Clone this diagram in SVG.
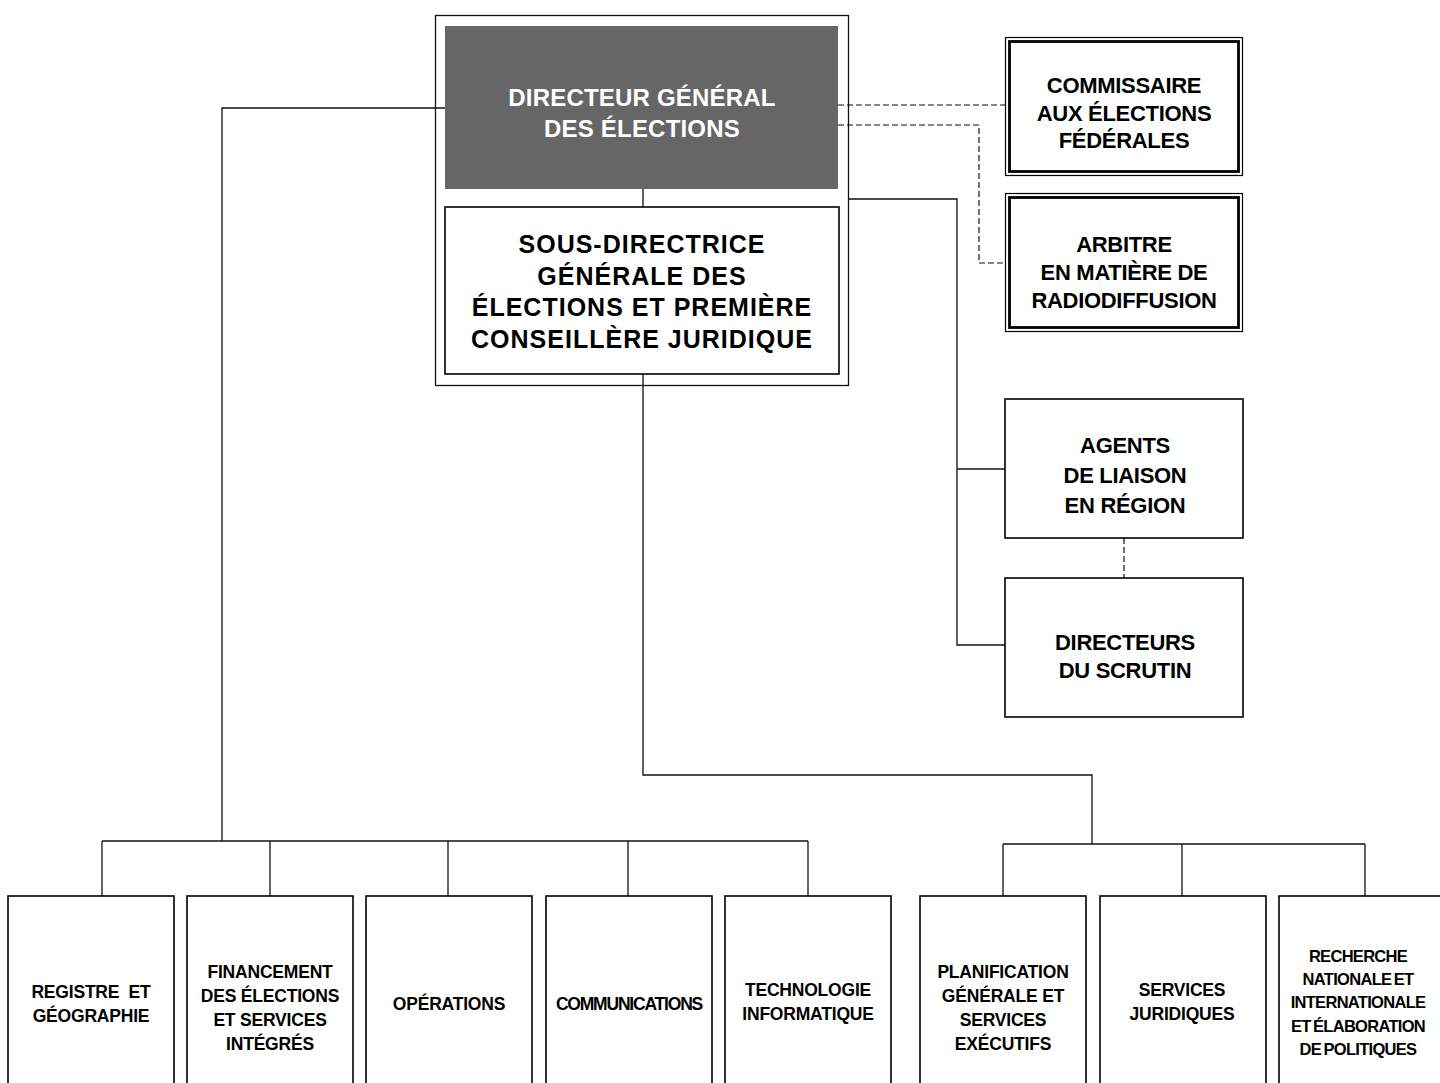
<svg xmlns="http://www.w3.org/2000/svg" width="1440" height="1083" viewBox="0 0 1440 1083">
<style>
.bg{fill:#ffffff}
.box{fill:#ffffff;stroke:#000;stroke-width:1.6}
.frame{fill:none;stroke:#111;stroke-width:1.3}
.dbl-o{fill:#ffffff;stroke:#000;stroke-width:1.2}
.dbl-i{fill:none;stroke:#000;stroke-width:2.8}
.ln{fill:none;stroke:#111;stroke-width:1.3}
.dash{fill:none;stroke:#111;stroke-width:1.2;stroke-dasharray:6,3}
text{font-family:"Liberation Sans",Arial,sans-serif;font-weight:bold;text-anchor:middle;fill:#000}
.dg{font-size:24px;fill:#fff;letter-spacing:0.2px}
.sd{font-size:25px;letter-spacing:1px}
.rt{font-size:22px;letter-spacing:-0.3px}
.bt{font-size:17.5px;letter-spacing:-0.2px}
</style>
<rect class="bg" x="0" y="0" width="1440" height="1083"/>
<g id="connectors">
  <polyline class="ln" points="445,108 222,108 222,841"/>
  <line class="ln" x1="102" y1="841" x2="808" y2="841"/>
  <line class="ln" x1="102" y1="841" x2="102" y2="896"/>
  <line class="ln" x1="270" y1="841" x2="270" y2="896"/>
  <line class="ln" x1="448" y1="841" x2="448" y2="896"/>
  <line class="ln" x1="628" y1="841" x2="628" y2="896"/>
  <line class="ln" x1="808" y1="841" x2="808" y2="896"/>
  <line class="ln" x1="643" y1="189" x2="643" y2="207"/>
  <polyline class="ln" points="643,374 643,775 1092,775 1092,844"/>
  <line class="ln" x1="1003" y1="844" x2="1365" y2="844"/>
  <line class="ln" x1="1003" y1="844" x2="1003" y2="896"/>
  <line class="ln" x1="1182" y1="844" x2="1182" y2="896"/>
  <line class="ln" x1="1365" y1="844" x2="1365" y2="896"/>
  <polyline class="ln" points="849,199 957,199 957,645 1005,645"/>
  <line class="ln" x1="957" y1="469" x2="1005" y2="469"/>
  <line class="dash" x1="838" y1="105" x2="1005" y2="105"/>
  <polyline class="dash" points="838,125 979,125 979,263 1005,263"/>
  <line class="dash" x1="1124" y1="538" x2="1124" y2="578"/>
</g>
<g id="frame-top">
  <rect class="frame" x="435.5" y="15.5" width="413" height="370"/>
</g>
<g id="node-dg">
  <rect x="445" y="26" width="393" height="163" fill="#666666"/>
  <text class="dg" x="642" y="106">DIRECTEUR GÉNÉRAL</text>
  <text class="dg" x="642" y="137">DES ÉLECTIONS</text>
</g>
<g id="node-sous-directrice">
  <rect class="box" x="445" y="207" width="394" height="167"/>
  <text class="sd" x="642" y="253">SOUS-DIRECTRICE</text>
  <text class="sd" x="642" y="284.5">GÉNÉRALE DES</text>
  <text class="sd" x="642" y="316">ÉLECTIONS ET PREMIÈRE</text>
  <text class="sd" x="642" y="347.5">CONSEILLÈRE JURIDIQUE</text>
</g>
<g id="node-commissaire">
  <rect class="dbl-o" x="1005.5" y="37.5" width="237" height="138"/>
  <rect class="dbl-i" x="1009.5" y="41.5" width="229" height="130"/>
  <text class="rt" x="1124" y="93">COMMISSAIRE</text>
  <text class="rt" x="1124" y="120.5">AUX ÉLECTIONS</text>
  <text class="rt" x="1124" y="148">FÉDÉRALES</text>
</g>
<g id="node-arbitre">
  <rect class="dbl-o" x="1005.5" y="193.5" width="237" height="138"/>
  <rect class="dbl-i" x="1009.5" y="197.5" width="229" height="130"/>
  <text class="rt" x="1124" y="252">ARBITRE</text>
  <text class="rt" x="1124" y="280">EN MATIÈRE DE</text>
  <text class="rt" x="1124" y="308">RADIODIFFUSION</text>
</g>
<g id="node-agents">
  <rect class="box" x="1005" y="399" width="238" height="139"/>
  <text class="rt" x="1125" y="453">AGENTS</text>
  <text class="rt" x="1125" y="483">DE LIAISON</text>
  <text class="rt" x="1125" y="513">EN RÉGION</text>
</g>
<g id="node-directeurs">
  <rect class="box" x="1005" y="578" width="238" height="139"/>
  <text class="rt" x="1125" y="650">DIRECTEURS</text>
  <text class="rt" x="1125" y="678">DU SCRUTIN</text>
</g>
<g id="node-registre">
  <rect class="box" x="8" y="896" width="166" height="196"/>
  <text class="bt" x="91" y="998" xml:space="preserve">REGISTRE  ET</text>
  <text class="bt" x="91" y="1022">GÉOGRAPHIE</text>
</g>
<g id="node-financement">
  <rect class="box" x="187" y="896" width="166" height="196"/>
  <text class="bt" x="270" y="978">FINANCEMENT</text>
  <text class="bt" x="270" y="1002">DES ÉLECTIONS</text>
  <text class="bt" x="270" y="1026">ET SERVICES</text>
  <text class="bt" x="270" y="1050">INTÉGRÉS</text>
</g>
<g id="node-operations">
  <rect class="box" x="366" y="896" width="166" height="196"/>
  <text class="bt" x="449" y="1010">OPÉRATIONS</text>
</g>
<g id="node-communications">
  <rect class="box" x="546" y="896" width="166" height="196"/>
  <text class="bt" x="629" y="1010" style="letter-spacing:-1.2px">COMMUNICATIONS</text>
</g>
<g id="node-technologie">
  <rect class="box" x="725" y="896" width="166" height="196"/>
  <text class="bt" x="808" y="996">TECHNOLOGIE</text>
  <text class="bt" x="808" y="1020">INFORMATIQUE</text>
</g>
<g id="node-planification">
  <rect class="box" x="920" y="896" width="166" height="196"/>
  <text class="bt" x="1003" y="978">PLANIFICATION</text>
  <text class="bt" x="1003" y="1002">GÉNÉRALE ET</text>
  <text class="bt" x="1003" y="1026">SERVICES</text>
  <text class="bt" x="1003" y="1050">EXÉCUTIFS</text>
</g>
<g id="node-services-juridiques">
  <rect class="box" x="1100" y="896" width="166" height="196"/>
  <text class="bt" x="1182" y="996">SERVICES</text>
  <text class="bt" x="1182" y="1020">JURIDIQUES</text>
</g>
<g id="node-recherche">
  <rect class="box" x="1279" y="896" width="168" height="196"/>
  <g style="font-size:16.5px;letter-spacing:-0.7px;word-spacing:-1.5px">
    <text x="1358" y="962">RECHERCHE</text>
    <text x="1358" y="985">NATIONALE ET</text>
    <text x="1358" y="1008">INTERNATIONALE</text>
    <text x="1358" y="1032">ET ÉLABORATION</text>
    <text x="1358" y="1055">DE POLITIQUES</text>
  </g>
</g>
</svg>
